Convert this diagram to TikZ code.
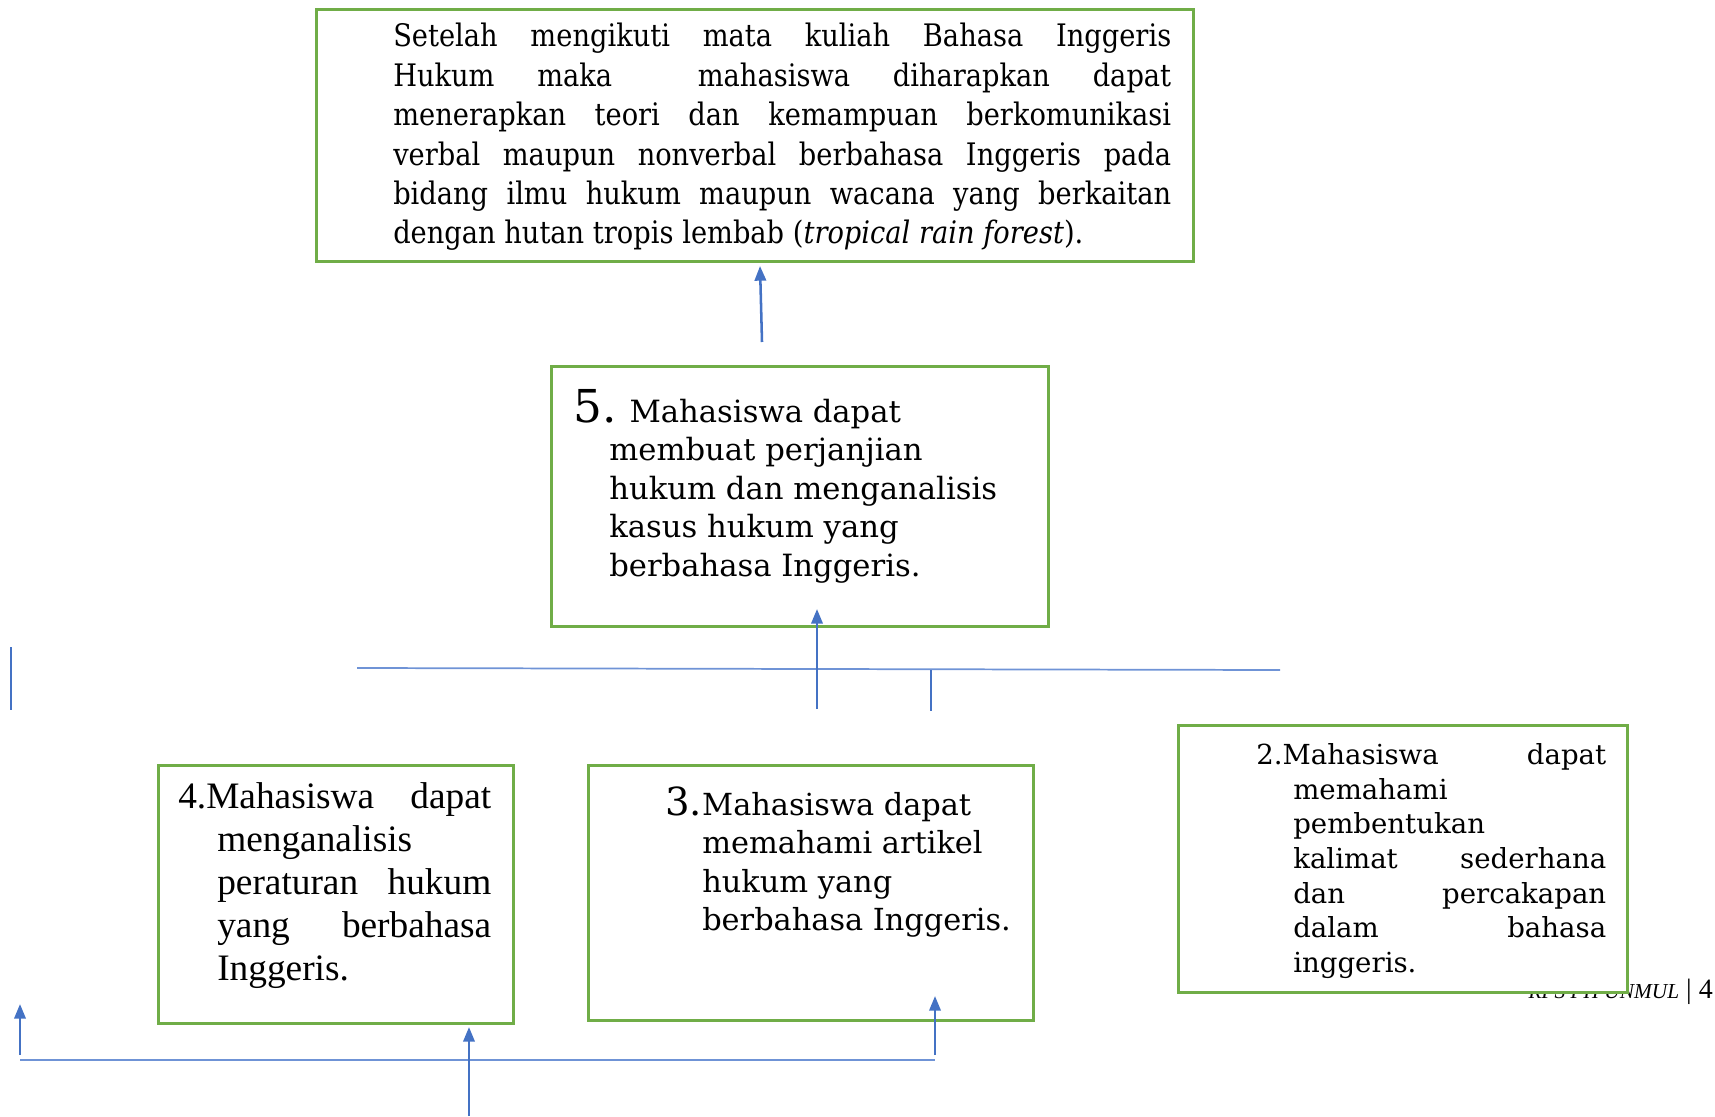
\documentclass[tikz,border=0pt]{standalone}
\usepackage{fontspec}
\setmainfont{DejaVu Serif}
\newfontfamily\topfont[FakeStretch=0.88]{DejaVu Serif}
\newfontfamily\timesf{Liberation Serif}
\usetikzlibrary{arrows.meta}
\definecolor{gboxc}{HTML}{70AD47}
\definecolor{bluec}{HTML}{4472C4}
\definecolor{lbluec}{HTML}{6F93D6}
\newcommand{\fixsp}{\spaceskip=0pt\xspaceskip=0pt\relax}
\begin{document}
\begin{tikzpicture}[x=0.75pt,y=-0.75pt,
  gbox/.style={draw=gboxc,line width=2.2pt,fill=white,anchor=north west,inner sep=0pt},
  txt/.style={anchor=base west,inner sep=0pt},
  arr/.style={draw=bluec,line width=1.9pt,-{Triangle[length=11pt,width=8.5pt]}},
  hline/.style={draw=lbluec,line width=1.3pt}]
\useasboundingbox (0,0) rectangle (1715,1116);
% footer (partly hidden behind box 2)
\node[anchor=base east,inner sep=0pt] (foot) at (1713,998)
  {\timesf\fontsize{21pt}{21pt}\selectfont{\fontsize{16pt}{16pt}\selectfont\itshape RPS FH UNMUL} | 4};
% boxes
\node[gbox,minimum width=657.75pt,minimum height=189pt] (top) at (315,8) {};
\node[gbox,minimum width=372.75pt,minimum height=195pt] (b5) at (550,365) {};
\node[gbox,minimum width=266.25pt,minimum height=193.5pt] (b4) at (157,764) {};
\node[gbox,minimum width=333.75pt,minimum height=191.25pt] (b3) at (587,764) {};
\node[gbox,minimum width=336.75pt,minimum height=200.25pt] (b2) at (1177,724) {};
% texts
\node[txt,text width=583.5pt,align=justify] (ttop) at (393,47)
 {\topfont\fontsize{23.25pt}{29.55pt}\selectfont\fixsp
  Setelah mengikuti mata kuliah Bahasa Inggeris\linebreak
  Hukum maka\ \ mahasiswa diharapkan dapat\linebreak
  menerapkan teori dan kemampuan berkomunikasi\linebreak
  verbal maupun nonverbal berbahasa Inggeris pada\linebreak
  bidang ilmu hukum maupun wacana yang berkaitan\linebreak
  dengan hutan tropis lembab (\textit{tropical rain forest}).\par};
\node[txt,text width=330pt,align=justify] (t5) at (573,422)
 {\fontsize{23pt}{28.9pt}\selectfont\fixsp
  \hangindent=27pt\hangafter=1
  {\fontsize{34pt}{28.9pt}\selectfont 5.} Mahasiswa dapat\newline
  membuat perjanjian\newline
  hukum dan menganalisis\newline
  kasus hukum yang\newline
  berbahasa Inggeris.\par};
\node[txt,text width=234.75pt,align=justify] (t4) at (178,808)
 {\timesf\fontsize{28pt}{32.25pt}\selectfont\fixsp
  \hangindent=29.25pt\hangafter=1
  4.Mahasiswa dapat\linebreak
  menganalisis\linebreak
  peraturan hukum\linebreak
  yang berbahasa\linebreak
  Inggeris.\par};
\node[txt,text width=260pt,align=justify] (t3) at (665,815)
 {\fontsize{22.8pt}{28.9pt}\selectfont\fixsp
  \hangindent=27.75pt\hangafter=1
  {\fontsize{29pt}{28.9pt}\selectfont 3.}Mahasiswa dapat\newline
  memahami artikel\newline
  hukum yang\newline
  berbahasa Inggeris.\par};
\node[txt,text width=262.5pt,align=justify] (t2) at (1256,764.5)
 {\fontsize{20.7pt}{26pt}\selectfont\fixsp
  \hangindent=27.75pt\hangafter=1
  2.Mahasiswa dapat\linebreak
  memahami\linebreak
  pembentukan\linebreak
  kalimat sederhana\linebreak
  dan percakapan\linebreak
  dalam bahasa\linebreak
  inggeris.\par};
% connectors
\coordinate (a1s) at (762,342);
\coordinate (a1e) at (760,266);
\draw[arr] (a1s) -- (a1e);
\coordinate (h1l) at (357,668);
\coordinate (h1r) at (1280,670);
\draw[hline] (h1l) -- (h1r);
\coordinate (a2s) at (817,709);
\coordinate (a2e) at (817,609);
\draw[arr] (a2s) -- (a2e);
\coordinate (v1t) at (931,670);
\coordinate (v1b) at (931,711);
\draw[draw=bluec,line width=1.3pt] (v1t) -- (v1b);
\coordinate (v2t) at (11,647);
\coordinate (v2b) at (11,710);
\draw[draw=bluec,line width=1.3pt] (v2t) -- (v2b);
\coordinate (h2l) at (20,1060);
\coordinate (h2r) at (935,1060);
\draw[hline] (h2l) -- (h2r);
\coordinate (a3s) at (20,1055);
\coordinate (a3e) at (20,1004);
\draw[arr] (a3s) -- (a3e);
\coordinate (a4s) at (469,1116);
\coordinate (a4e) at (469,1027);
\draw[arr] (a4s) -- (a4e);
\coordinate (a5s) at (935,1055);
\coordinate (a5e) at (935,996);
\draw[arr] (a5s) -- (a5e);
\end{tikzpicture}
\end{document}
